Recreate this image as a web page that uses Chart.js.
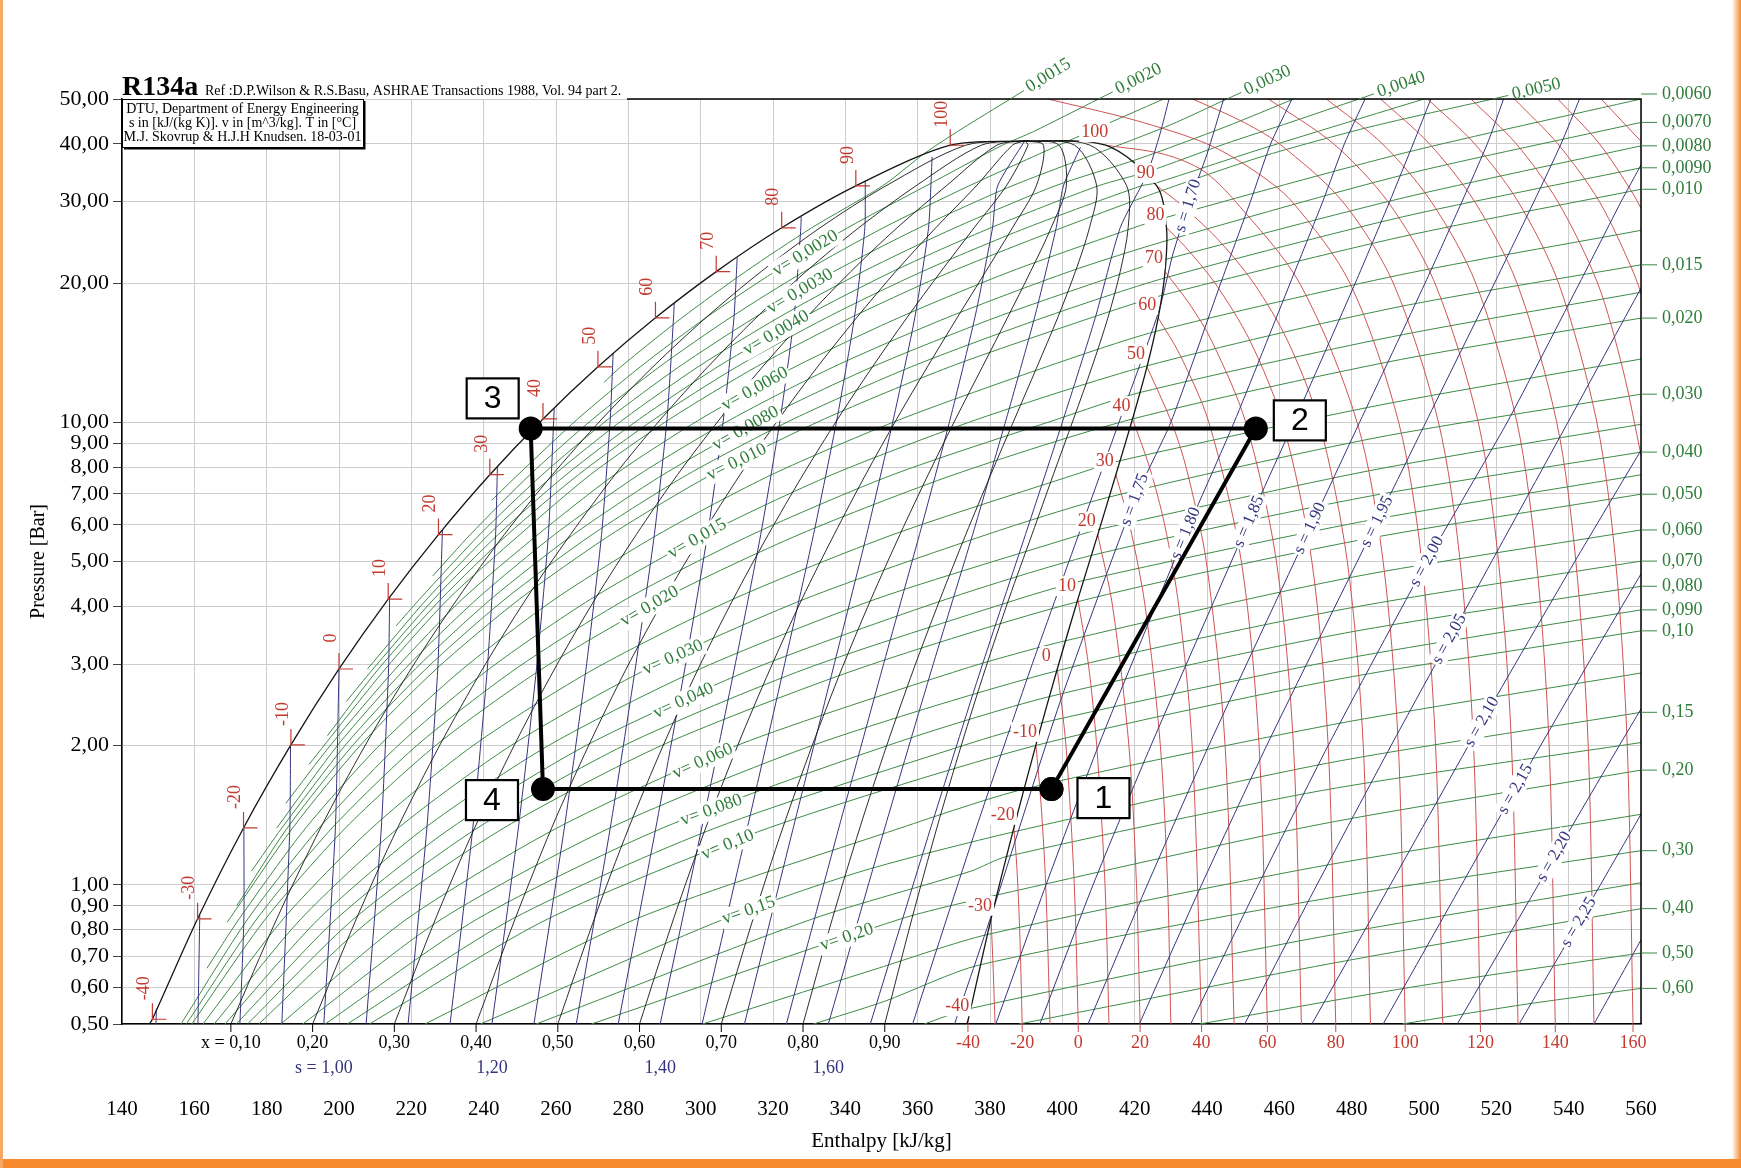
<!DOCTYPE html>
<html>
<head>
<meta charset="utf-8">
<script src="https://cdn.jsdelivr.net/npm/chart.js@4.4.1/dist/chart.umd.min.js"></script>
<style>
  html, body { margin: 0; padding: 0; background: #fff; }
  canvas { display: block; }
</style>
</head>
<body>
<canvas id="chart" width="1741" height="1168"></canvas>
<script>
const pressureTicks = [0.5, 0.6, 0.7, 0.8, 0.9, 1, 2, 3, 4, 5, 6, 7, 8, 9, 10, 20, 30, 40, 50];

// saturation dome: T [°C], p [bar], h [kJ/kg]
const satT = [-40, -30, -20, -10, 0, 10, 20, 30, 40, 50, 60, 70, 80, 90, 100];
const satP = [0.512, 0.844, 1.327, 2.006, 2.928, 4.146, 5.717, 7.702, 10.166, 13.18, 16.82, 21.17, 26.33, 32.44, 39.72];
const satHliq = [148.4, 160.9, 173.6, 186.7, 200.0, 213.6, 227.5, 241.7, 256.4, 271.6, 287.5, 304.3, 322.4, 342.9, 369.0];
const satHvap = [374.0, 380.3, 386.6, 392.7, 398.6, 404.3, 409.8, 414.8, 419.4, 423.4, 426.5, 428.4, 428.8, 426.1, 412.0];
const satLiqBottom = [147.5, 0.5];
const satVapBottom = [373.6, 0.5];
const critPoint = [389.6, 40.59];

// constant quality lines
const qualityText = ['x = 0,10', '0,20', '0,30', '0,40', '0,50', '0,60', '0,70', '0,80', '0,90'];
const qualityP = [0.5, 0.844, 1.327, 2.006, 2.928, 4.146, 5.717, 7.702, 10.166, 13.18, 16.82, 21.17, 26.33, 32.44, 39.72];
const qualityH = [
  [170.1, 182.8, 194.9, 207.3, 219.9, 232.7, 245.7, 259.0, 272.7, 286.8, 301.4, 316.7, 333.0, 351.2, 373.3],
  [192.7, 204.8, 216.2, 227.9, 239.7, 251.7, 264.0, 276.3, 289.0, 302.0, 315.3, 329.1, 343.7, 359.5, 377.6],
  [215.3, 226.7, 237.5, 248.5, 259.6, 270.8, 282.2, 293.6, 305.3, 317.1, 329.2, 341.5, 354.3, 367.9, 381.9],
  [237.9, 248.7, 258.8, 269.1, 279.4, 289.9, 300.4, 310.9, 321.6, 332.3, 343.1, 353.9, 365.0, 376.2, 386.2],
  [260.5, 270.6, 280.1, 289.7, 299.3, 309.0, 318.7, 328.3, 337.9, 347.5, 357.0, 366.4, 375.6, 384.5, 390.5],
  [283.1, 292.5, 301.4, 310.3, 319.2, 328.0, 336.9, 345.6, 354.2, 362.7, 370.9, 378.8, 386.2, 392.8, 394.8],
  [305.7, 314.5, 322.7, 330.9, 339.0, 347.1, 355.1, 362.9, 370.5, 377.9, 384.8, 391.2, 396.9, 401.1, 399.1],
  [328.3, 336.4, 344.0, 351.5, 358.9, 366.2, 373.3, 380.2, 386.8, 393.0, 398.7, 403.6, 407.5, 409.5, 403.4],
  [350.9, 358.4, 365.3, 372.1, 378.7, 385.2, 391.6, 397.5, 403.1, 408.2, 412.6, 416.0, 418.2, 417.8, 407.7]
];

// isotherms in the superheated / supercritical region, [h, p]
const isothermT = [-40, -30, -20, -10, 0, 10, 20, 30, 40, 50, 60, 70, 80, 90, 100, 110, 120, 130, 140, 150, 160, 170, 180, 190, 200];
const isothermPts = [
  [[374.0, 0.512], [373.9, 0.5]],
  [[380.3, 0.844], [380.9, 0.65], [381.4, 0.5]],
  [[386.6, 1.327], [387.4, 1.1], [388.2, 0.8], [388.9, 0.5]],
  [[392.7, 2.006], [394.1, 1.5], [395.4, 1.0], [396.6, 0.5]],
  [[398.6, 2.928], [401.0, 2.0], [403.3, 1.0], [404.4, 0.5]],
  [[404.3, 4.146], [407.2, 3.0], [409.5, 2.0], [411.8, 1.0], [412.9, 0.5]],
  [[409.8, 5.717], [413.9, 4.0], [418.4, 2.0], [420.5, 1.0], [421.5, 0.5]],
  [[414.8, 7.702], [418.6, 6.0], [422.9, 4.0], [427.1, 2.0], [429.1, 1.0], [430.0, 0.5]],
  [[419.4, 10.166], [424.1, 8.0], [428.3, 6.0], [432.2, 4.0], [435.9, 2.0], [438.5, 0.5]],
  [[423.4, 13.18], [430.2, 10.0], [434.2, 8.0], [439.8, 5.0], [445.0, 2.0], [447.5, 0.5]],
  [[426.5, 16.82], [432.5, 14.0], [440.5, 10.0], [449.5, 5.0], [454.4, 2.0], [456.7, 0.5]],
  [[428.4, 21.17], [435.2, 18.0], [441.3, 15.0], [450.7, 10.0], [459.2, 5.0], [463.9, 2.0], [466.1, 0.5]],
  [[428.8, 26.33], [433.9, 24.0], [442.2, 20.0], [451.9, 15.0], [460.9, 10.0], [469.0, 5.0], [473.5, 2.0], [475.6, 0.5]],
  [[426.1, 32.44], [431.8, 30.0], [442.7, 25.0], [452.9, 20.0], [462.3, 15.0], [471.0, 10.0], [478.8, 5.0], [483.2, 2.0], [485.2, 0.5]],
  [[412.0, 39.72], [428.0, 38.0], [438.9, 35.0], [447.9, 30.0], [465.6, 20.0], [481.5, 10.0], [488.7, 5.0], [492.9, 2.0], [494.8, 0.5]],
  [[396, 50], [420, 45], [440, 40], [453, 35], [463.5, 30], [479.5, 20], [493, 10], [499.4, 5], [503.2, 2], [505.2, 0.5]],
  [[436, 50], [449, 45], [460, 40], [477.5, 30], [491.5, 20], [504, 10], [510, 5], [513.7, 2], [515.6, 0.5]],
  [[457, 50], [475, 40], [490, 30], [503, 20], [515, 10], [520.6, 5], [524.2, 2], [526, 0.5]],
  [[473, 50], [488.5, 40], [502, 30], [514.3, 20], [525.7, 10], [531.1, 5], [534.6, 2], [536.3, 0.5]],
  [[488, 50], [501.5, 40], [514, 30], [525.7, 20], [536.7, 10], [542, 5], [545.4, 2], [547, 0.5]],
  [[501, 50], [514, 40], [526, 30], [537.2, 20], [547.8, 10], [553, 5], [556.2, 2], [557.8, 0.5]],
  [[513, 50], [525.5, 40], [537, 30], [548, 20], [555, 13], [560, 8.5]],
  [[525, 50], [537, 40], [548.5, 30], [558, 21], [562, 17]],
  [[537, 50], [548.5, 40], [558, 31], [562, 27]],
  [[549, 50], [560, 40.5]]
];
const bottomTempT = [-40, -20, 0, 20, 40, 60, 80, 100, 120, 140, 160];

// isentropes, [h, p]
const isentropeS = [0.80, 0.85, 0.90, 0.95, 1.00, 1.05, 1.10, 1.15, 1.20, 1.25, 1.30, 1.35, 1.40, 1.45, 1.50, 1.55,
                    1.60, 1.65, 1.70, 1.75, 1.80, 1.85, 1.90, 1.95, 2.00, 2.05, 2.10, 2.15, 2.20, 2.25, 2.30];
const isentropePts = [
  [[149.4, 0.5], [149.5, 0.54]],
  [[161.0, 0.5], [161.5, 0.86]],
  [[172.6, 0.5], [173.7, 0.844], [173.7, 1.33]],
  [[184.2, 0.5], [186.4, 1.327], [186.6, 2.0]],
  [[195.8, 0.5], [199.0, 1.327], [200.0, 2.928]],
  [[207.5, 0.5], [211.7, 1.327], [213.7, 2.928], [214.0, 4.19]],
  [[219.1, 0.5], [224.3, 1.327], [227.3, 2.928], [228.6, 5.85]],
  [[230.7, 0.5], [237.0, 1.327], [241.0, 2.928], [243.3, 5.717], [243.8, 8.0]],
  [[242.3, 0.5], [249.6, 1.327], [254.6, 2.928], [257.9, 5.717], [259.5, 10.7]],
  [[253.9, 0.5], [262.3, 1.327], [268.3, 2.928], [272.6, 5.717], [275.0, 10.166], [275.8, 14.1]],
  [[265.6, 0.5], [275.0, 1.327], [281.9, 2.928], [287.2, 5.717], [290.7, 10.166], [292.5, 16.82], [292.7, 18.1]],
  [[277.2, 0.5], [287.6, 1.327], [295.6, 2.928], [301.9, 5.717], [306.3, 10.166], [309.2, 16.82], [310.1, 22.7]],
  [[288.8, 0.5], [300.3, 1.327], [309.3, 2.928], [316.6, 5.717], [322.0, 10.166], [325.8, 16.82], [327.7, 26.33], [327.8, 27.8]],
  [[300.4, 0.5], [312.9, 1.327], [322.9, 2.928], [331.2, 5.717], [337.7, 10.166], [342.5, 16.82], [345.4, 26.33], [345.5, 33.3]],
  [[312.1, 0.5], [325.6, 1.327], [336.6, 2.928], [345.9, 5.717], [353.3, 10.166], [359.2, 16.82], [363.0, 26.33], [364.0, 37.5]],
  [[323.7, 0.5], [338.2, 1.327], [350.2, 2.928], [360.5, 5.717], [369.0, 10.166], [375.8, 16.82], [380.7, 26.33], [382.1, 32.44], [389.6, 40.59]],
  [[335.3, 0.5], [350.9, 1.327], [363.9, 2.928], [375.2, 5.717], [384.5, 10.166], [392.3, 16.82], [398.3, 26.33], [400.3, 32.44], [405.0, 39.3]],
  [[346.9, 0.5], [363.6, 1.327], [377.5, 2.928], [389.8, 5.717], [400.3, 10.166], [409.1, 16.82], [416.0, 26.33], [423.5, 34.5], [427.0, 42], [429.5, 50]],
  [[358.6, 0.5], [376.2, 1.327], [391.2, 2.928], [404.5, 5.717], [416.0, 10.166], [426.8, 17.5], [430.5, 23], [434.8, 29.4], [440.0, 38], [444.6, 50]],
  [[370.2, 0.5], [380.6, 0.87], [399.5, 2.5], [420.0, 6.8], [430.0, 10], [443.8, 20], [452.0, 30], [457.6, 40], [463.5, 50]],
  [[381.6, 0.5], [395.5, 1], [410.0, 2], [434.1, 5.75], [447.5, 10], [463.0, 20], [472.0, 30], [478.0, 40], [483.7, 50]],
  [[393.8, 0.5], [408.5, 1], [424.5, 2], [451.6, 6.1], [464.0, 10], [481.0, 20], [490.5, 30], [497.0, 40], [501.9, 50]],
  [[407.1, 0.5], [423.5, 1], [440.5, 2], [468.5, 5.9], [482.2, 10], [500.3, 20], [510.5, 30], [517.5, 40], [522.0, 50]],
  [[421.3, 0.5], [438.5, 1], [456.5, 2], [487.0, 6.1], [500.5, 10], [519.5, 20], [530.4, 30], [537.9, 40], [543.0, 50]],
  [[435.5, 0.5], [454.2, 1], [473.5, 2], [500.8, 5], [523.0, 10], [543.0, 20], [554.5, 30], [560.0, 36]],
  [[450.4, 0.5], [470.4, 1], [490.9, 2], [507.0, 3.4], [518.7, 5], [539.8, 10], [560.0, 19.5]],
  [[469.0, 0.5], [490.7, 1], [516.0, 2.25], [541.7, 5], [560.0, 8.7]],
  [[488.7, 0.5], [510.4, 1], [525.3, 1.61], [545.3, 3], [560.0, 4.7]],
  [[509.2, 0.5], [531.6, 1], [536.0, 1.15], [554.0, 2], [560.0, 2.4]],
  [[526.3, 0.5], [542.8, 0.83], [560.0, 1.42]],
  [[547.0, 0.5], [560.0, 0.76]]
];
const isentropeLabelS = [1.70, 1.75, 1.80, 1.85, 1.90, 1.95, 2.00, 2.05, 2.10, 2.15, 2.20, 2.25];
const isentropeLabelText = ['s = 1,70', 's = 1,75', 's = 1,80', 's = 1,85', 's = 1,90', 's = 1,95', 's = 2,00', 's = 2,05', 's = 2,10', 's = 2,15', 's = 2,20', 's = 2,25'];
const isentropeLabelP = [29.4, 6.8, 5.75, 6.1, 5.9, 6.1, 5.0, 3.4, 2.25, 1.61, 1.15, 0.83];
const bottomEntropyS = [1.00, 1.20, 1.40, 1.60];
const bottomEntropyText = ['s = 1,00', '1,20', '1,40', '1,60'];

// isochores, [h, p]
const isochoreV = [0.0015, 0.0020, 0.0025, 0.0030, 0.0035, 0.0040, 0.0045, 0.0050, 0.0060, 0.0070, 0.0080, 0.0090, 0.010,
                   0.0125, 0.015, 0.0175, 0.020, 0.025, 0.030, 0.035, 0.040, 0.045, 0.050, 0.060, 0.070, 0.080, 0.090,
                   0.10, 0.125, 0.15, 0.175, 0.20, 0.25, 0.30, 0.35, 0.40, 0.50, 0.60];
const isochorePts = [
  [[273.3, 12.2], [277.9, 13.18], [294.8, 16.82], [312.4, 21.17], [330.7, 26.33], [350.3, 32.44], [362, 38.2], [372, 43], [385.6, 50]],
  [[242.2, 6.78], [249.5, 7.702], [266.0, 10.166], [283.3, 13.18], [301.4, 16.82], [320.5, 21.17], [340.6, 26.33], [362.3, 32.44], [383.4, 39.72], [392, 42.5], [410, 50]],
  [[225.9, 4.65], [236.3, 5.717], [252.8, 7.702], [270.2, 10.166], [288.6, 13.18], [308.1, 16.82], [328.6, 21.17], [350.5, 26.33], [374.2, 32.44], [399, 39.72], [428, 50]],
  [[215.8, 3.63], [222.3, 4.146], [238.9, 5.717], [256.2, 7.702], [274.5, 10.166], [294.0, 13.18], [314.8, 16.82], [336.8, 21.17], [360.4, 26.33], [386.1, 32.44], [414, 39.3], [430, 44], [445.5, 50]],
  [[207.9, 2.93], [224.3, 4.146], [241.4, 5.717], [259.5, 7.702], [278.8, 10.166], [299.3, 13.18], [321.4, 16.82], [344.9, 21.17], [370.3, 26.33], [398.0, 32.44], [421, 37.1], [445, 43.5], [464, 50]],
  [[202.0, 2.49], [209.4, 2.928], [226.2, 4.146], [244.0, 5.717], [262.8, 7.702], [283.1, 10.166], [304.7, 13.18], [328.1, 16.82], [353.0, 21.17], [380.2, 26.33], [409.9, 32.44], [424, 34.9], [445, 40], [463, 44.5], [482, 50]],
  [[196.8, 2.1], [210.9, 2.928], [228.2, 4.146], [246.6, 5.717], [266.2, 7.702], [287.3, 10.166], [310.0, 13.18], [334.7, 16.82], [361.2, 21.17], [390.1, 26.33], [421.8, 32.44], [425.8, 32.9], [455, 39], [500, 50]],
  [[191.7, 1.82], [212.8, 2.928], [230.2, 4.146], [250.0, 5.717], [269.5, 7.702], [291.5, 10.166], [315.4, 13.18], [341.4, 16.82], [369.3, 21.17], [399.9, 26.33], [426.6, 31.5], [455, 37.5], [485, 43.5], [519, 50]],
  [[185.3, 1.5], [197.7, 2.006], [215.6, 2.928], [234.1, 4.146], [255.0, 5.717], [276.2, 7.702], [300.0, 10.166], [326.1, 13.18], [354.7, 16.82], [385.6, 21.17], [419.7, 26.33], [428.5, 27.7], [495, 38.3], [560, 50]],
  [[182.8, 1.327], [199.7, 2.006], [218.2, 2.928], [238.1, 4.146], [259.6, 5.717], [282.9, 7.702], [308.6, 10.166], [336.8, 13.18], [368.0, 16.82], [401.9, 21.17], [428.8, 24.7], [494.5, 34.3], [560, 44.5]],
  [[175.8, 1.07], [184.2, 1.327], [201.8, 2.006], [221.1, 2.928], [242.0, 4.146], [264.8, 5.717], [289.6, 7.702], [317.1, 10.166], [347.5, 13.18], [381.3, 16.82], [418.1, 21.17], [428.6, 22.5], [494.5, 30.6], [560, 39.6]],
  [[171.7, 0.9], [185.7, 1.327], [203.9, 2.006], [224.0, 2.928], [245.9, 4.146], [270.0, 5.717], [296.3, 7.702], [325.7, 10.166], [358.2, 13.18], [394.6, 16.82], [428.2, 20.5], [494, 27.8], [560, 35.5]],
  [[169.1, 0.83], [187.2, 1.327], [206.0, 2.006], [226.9, 2.928], [249.9, 4.146], [275.2, 5.717], [302.9, 7.702], [334.2, 10.166], [368.9, 13.18], [407.9, 16.82], [427.4, 18.8], [494, 25.2], [560, 31.9]],
  [[163.5, 0.66], [172.4, 0.844], [190.8, 1.327], [211.3, 2.006], [234.2, 2.928], [259.7, 4.146], [288.2, 5.717], [319.6, 7.702], [355.5, 10.166], [395.6, 13.18], [425.6, 15.7], [493, 20.8], [560, 26]],
  [[156.3, 0.5], [174.8, 0.844], [194.5, 1.327], [216.5, 2.006], [241.5, 2.928], [269.6, 4.146], [301.1, 5.717], [336.3, 7.702], [376.8, 10.166], [423.5, 13.25], [492, 17.7], [560, 21.9]],
  [[157.8, 0.5], [177.3, 0.844], [198.1, 1.327], [221.7, 2.006], [248.8, 2.928], [279.4, 4.146], [314.2, 5.717], [353.1, 7.702], [398.8, 10.166], [421.5, 11.6], [491, 15.3], [560, 19.1]],
  [[159.3, 0.5], [179.7, 0.844], [201.8, 1.327], [226.9, 2.006], [256.1, 2.928], [289.3, 4.146], [327.2, 5.717], [370.0, 7.702], [419.4, 10.166], [490, 13.5], [560, 16.8]],
  [[162.4, 0.5], [184.6, 0.844], [209.1, 1.327], [237.3, 2.006], [270.6, 2.928], [309.0, 4.146], [353.2, 5.717], [403.4, 7.702], [416.0, 8.26], [488, 10.9], [560, 13.7]],
  [[165.5, 0.5], [189.5, 0.844], [216.4, 1.327], [247.8, 2.006], [285.2, 2.928], [328.7, 4.146], [379.1, 5.717], [412.9, 6.89], [486.5, 9.25], [560, 11.5]],
  [[168.5, 0.5], [194.4, 0.844], [223.7, 1.327], [258.2, 2.006], [299.8, 2.928], [348.4, 4.146], [405.1, 5.717], [410.2, 5.87], [485, 7.86], [560, 9.9]],
  [[171.6, 0.5], [199.3, 0.844], [231.0, 1.327], [268.6, 2.006], [314.4, 2.928], [368.0, 4.146], [407.9, 5.15], [484, 6.9], [560, 8.62]],
  [[174.7, 0.5], [204.1, 0.844], [238.3, 1.327], [279.1, 2.006], [328.9, 2.928], [387.8, 4.146], [405.9, 4.55], [483, 6.1], [560, 7.7]],
  [[177.8, 0.5], [209.0, 0.844], [245.6, 1.327], [289.5, 2.006], [343.5, 2.928], [404.1, 4.09], [482, 5.56], [560, 6.99]],
  [[183.9, 0.5], [218.8, 0.844], [260.3, 1.327], [310.4, 2.006], [372.7, 2.928], [400.9, 3.37], [480.5, 4.63], [560, 5.85]],
  [[190.0, 0.5], [228.5, 0.844], [274.9, 1.327], [331.3, 2.006], [398.4, 2.9], [479, 3.96], [560, 5.01]],
  [[196.2, 0.5], [238.3, 0.844], [289.5, 1.327], [352.2, 2.006], [396.3, 2.55], [478, 3.5], [560, 4.42]],
  [[202.3, 0.5], [248.0, 0.844], [304.1, 1.327], [373.1, 2.006], [394.4, 2.24], [477, 3.07], [560, 3.93]],
  [[208.4, 0.5], [257.8, 0.844], [318.8, 1.327], [392.6, 2.0], [476, 2.78], [560, 3.54]],
  [[223.8, 0.5], [282.2, 0.844], [355.3, 1.327], [389.4, 1.61], [474.7, 2.22], [560, 2.87]],
  [[239.1, 0.5], [306.6, 0.844], [344.6, 1.07], [386.3, 1.30], [473, 1.83], [560, 2.36]],
  [[254.5, 0.5], [331.0, 0.844], [374.7, 1.07], [384.4, 1.15], [472, 1.6], [560, 2.03]],
  [[269.8, 0.5], [355.4, 0.844], [381.8, 0.95], [471, 1.35], [560, 1.77]],
  [[300.5, 0.5], [349.1, 0.66], [379.1, 0.78], [469.5, 1.09], [560, 1.42]],
  [[331.2, 0.5], [350.9, 0.56], [376.8, 0.67], [468, 0.92], [560, 1.185]],
  [[361.8, 0.5], [374.5, 0.54], [467, 0.76], [560, 1.01]],
  [[388, 0.5], [474, 0.675], [560, 0.888]],
  [[438, 0.5], [499, 0.605], [560, 0.712]],
  [[494, 0.5], [527, 0.55], [560, 0.597]]
];
const isochoreLabelV = [0.0020, 0.0030, 0.0040, 0.0060, 0.0080, 0.010, 0.015, 0.020, 0.030, 0.040, 0.060, 0.080, 0.10, 0.15, 0.20];
const isochoreLabelText = ['v= 0,0020', 'v= 0,0030', 'v= 0,0040', 'v= 0,0060', 'v= 0,0080', 'v= 0,010', 'v= 0,015', 'v= 0,020',
                           'v= 0,030', 'v= 0,040', 'v= 0,060', 'v= 0,080', 'v= 0,10', 'v= 0,15', 'v= 0,20'];
const isochoreLabelP = [23.2, 19.2, 15.6, 11.8, 9.7, 8.2, 5.6, 4.0, 3.1, 2.5, 1.85, 1.45, 1.22, 0.88, 0.77];
const rightLabelV = [0.0060, 0.0070, 0.0080, 0.0090, 0.010, 0.015, 0.020, 0.030, 0.040, 0.050, 0.060, 0.070, 0.080, 0.090,
                     0.10, 0.15, 0.20, 0.30, 0.40, 0.50, 0.60];
const rightLabelText = ['0,0060', '0,0070', '0,0080', '0,0090', '0,010', '0,015', '0,020', '0,030', '0,040', '0,050', '0,060',
                        '0,070', '0,080', '0,090', '0,10', '0,15', '0,20', '0,30', '0,40', '0,50', '0,60'];
const topLabelV = [0.0015, 0.0020, 0.0030, 0.0040, 0.0050];
const topLabelText = ['0,0015', '0,0020', '0,0030', '0,0040', '0,0050'];

// refrigeration cycle 1-2-3-4
const cycleName = ['1', '2', '3', '4'];
const cycleH = [397.0, 453.5, 253.0, 256.4];
const cycleP = [1.61, 9.7, 9.7, 1.61];

// ---------- drawing ----------
const SERIF = '"Liberation Serif", "Times New Roman", serif';
const SANS = '"Liberation Sans", Arial, sans-serif';
const RED = '#cc4b4b', RED_TXT = '#c23a30';
const GREEN = '#3d8a46', GREEN_TXT = '#2f7d3a';
const NAVY = '#34347e';
const BLACK = '#151515';

Chart.defaults.font.family = SERIF;

const toXY = pts => pts.map(([h, p]) => ({ x: h, y: p }));

function curve(pts, color, width, order, tension) {
  return {
    data: toXY(pts), borderColor: color, borderWidth: width, pointRadius: 0, pointHoverRadius: 0,
    showLine: true, fill: false, tension: tension === undefined ? 0.3 : tension, order
  };
}

const datasets = [];

// cycle on top
const cyclePts = cycleH.map((h, i) => [h, cycleP[i]]);
cyclePts.push(cyclePts[0]);
datasets.push(Object.assign(curve(cyclePts, '#000', 4, 0, 0), {
  pointRadius: 10, pointBackgroundColor: '#000', pointBorderColor: '#000'
}));

// saturation dome
const liquidLine = [satLiqBottom, ...satHliq.map((h, i) => [h, satP[i]]), critPoint];
const vapourLine = [satVapBottom, ...satHvap.map((h, i) => [h, satP[i]]), critPoint];
datasets.push(curve(liquidLine, BLACK, 1.3, 1));
datasets.push(curve(vapourLine, BLACK, 1.3, 1));

qualityH.forEach(row => {
  const pts = row.map((h, i) => [h, qualityP[i]]);
  pts.push(critPoint);
  datasets.push(curve(pts, BLACK, 0.9, 2));
});

isentropePts.forEach(pts => datasets.push(curve(pts, NAVY, 1.0, 3, 0.2)));
isothermPts.forEach(pts => datasets.push(curve(pts, RED, 0.95, 4)));
isochorePts.forEach(pts => datasets.push(curve(pts, GREEN, 1.0, 5, 0.25)));

function tag(ctx, text, X, Y, angle, color, size, bg, align) {
  ctx.save();
  ctx.translate(X, Y);
  ctx.rotate(angle);
  ctx.font = size + 'px ' + SERIF;
  ctx.textAlign = align || 'center';
  ctx.textBaseline = 'middle';
  if (bg) {
    const w = ctx.measureText(text).width;
    const x0 = ctx.textAlign === 'left' ? -2 : -w / 2 - 2;
    ctx.fillStyle = '#fff';
    ctx.fillRect(x0, -size * 0.55, w + 4, size * 1.1);
  }
  ctx.fillStyle = color;
  ctx.fillText(text, 0, 0);
  ctx.restore();
}

// point on a curve at a given pressure, with the local direction
function onCurve(pts, p, px, py) {
  for (let i = 0; i < pts.length - 1; i++) {
    const [h1, p1] = pts[i], [h2, p2] = pts[i + 1];
    if (p1 !== p2 && (p - p1) * (p - p2) <= 0) {
      const t = Math.log(p / p1) / Math.log(p2 / p1);
      const x1 = px(h1), y1 = py(p1), x2 = px(h2), y2 = py(p2);
      let ang = Math.atan2(y2 - y1, x2 - x1);
      if (ang > Math.PI / 2) ang -= Math.PI;
      if (ang < -Math.PI / 2) ang += Math.PI;
      return { X: x1 + t * (x2 - x1), Y: y1 + t * (y2 - y1), ang };
    }
  }
  return null;
}

function drawLabels(chart) {
  const { ctx, chartArea: a, scales } = chart;
  const px = h => scales.x.getPixelForValue(h);
  const py = p => scales.y.getPixelForValue(p);
  ctx.save();

  // top and right frame
  ctx.strokeStyle = '#000';
  ctx.lineWidth = 1.5;
  ctx.beginPath();
  ctx.moveTo(627, a.top);
  ctx.lineTo(a.right, a.top);
  ctx.lineTo(a.right, a.bottom);
  ctx.stroke();

  // markers and labels on the saturated liquid line
  satT.forEach((t, i) => {
    const X = px(satHliq[i]), Y = py(satP[i]);
    ctx.strokeStyle = RED_TXT;
    ctx.lineWidth = 1.2;
    ctx.beginPath();
    ctx.moveTo(X, Y - 16); ctx.lineTo(X, Y + 1);
    ctx.moveTo(X, Y); ctx.lineTo(X + 14, Y);
    ctx.stroke();
    tag(ctx, String(t), X - 8, Y - 31, -Math.PI / 2, RED_TXT, 18, false);
  });

  // labels where isotherms leave the saturated vapour line
  satT.forEach((t, i) => {
    tag(ctx, String(t), px(satHvap[i]) - 11, py(satP[i]) - 13, 0, RED_TXT, 18, true);
  });

  // isentrope labels
  isentropeLabelS.forEach((s, i) => {
    const k = isentropeS.indexOf(s);
    const c = onCurve(isentropePts[k], isentropeLabelP[i], px, py);
    if (c) tag(ctx, isentropeLabelText[i], c.X, c.Y, c.ang, NAVY, 17, true);
  });

  // isochore labels inside the dome
  isochoreLabelV.forEach((v, i) => {
    const k = isochoreV.indexOf(v);
    const c = onCurve(isochorePts[k], isochoreLabelP[i], px, py);
    if (c) tag(ctx, isochoreLabelText[i], c.X, c.Y, c.ang, GREEN_TXT, 18, true);
  });

  // isochore labels on the right edge
  rightLabelV.forEach((v, i) => {
    const pts = isochorePts[isochoreV.indexOf(v)];
    const Y = py(pts[pts.length - 1][1]) - (i === 0 ? 5 : 0);
    ctx.strokeStyle = GREEN;
    ctx.lineWidth = 1;
    ctx.beginPath(); ctx.moveTo(a.right, Y); ctx.lineTo(a.right + 16, Y); ctx.stroke();
    tag(ctx, rightLabelText[i], a.right + 21, Y, 0, GREEN_TXT, 18, false, 'left');
  });

  // isochore labels above the top edge
  topLabelV.forEach((v, i) => {
    const pts = isochorePts[isochoreV.indexOf(v)];
    const n = pts.length;
    const X = px(pts[n - 1][0]), Y = py(pts[n - 1][1]);
    const ang = Math.atan2(py(pts[n - 1][1]) - py(pts[n - 2][1]), px(pts[n - 1][0]) - px(pts[n - 2][0]));
    const c = Math.cos(ang), s = Math.sin(ang);
    ctx.strokeStyle = GREEN;
    ctx.lineWidth = 1;
    ctx.beginPath(); ctx.moveTo(X, Y); ctx.lineTo(X + 16 * c, Y + 16 * s); ctx.stroke();
    tag(ctx, topLabelText[i], X + 20 * c, Y + 20 * s, ang, GREEN_TXT, 18, false, 'left');
  });

  // bottom rows: quality, temperature, entropy
  const rowY = a.bottom + 19;
  qualityH.forEach((row, i) => {
    const X = px(row[0]);
    ctx.strokeStyle = '#000';
    ctx.lineWidth = 1;
    ctx.beginPath(); ctx.moveTo(X, a.bottom); ctx.lineTo(X, a.bottom + 8); ctx.stroke();
    tag(ctx, qualityText[i], X, rowY, 0, '#000', 18, false);
  });
  bottomTempT.forEach(t => {
    const pts = isothermPts[isothermT.indexOf(t)];
    const X = px(pts[pts.length - 1][0]);
    ctx.strokeStyle = RED;
    ctx.lineWidth = 1;
    ctx.beginPath(); ctx.moveTo(X, a.bottom); ctx.lineTo(X, a.bottom + 8); ctx.stroke();
    tag(ctx, String(t), X, rowY, 0, RED_TXT, 18, false);
  });
  bottomEntropyS.forEach((s, i) => {
    const pts = isentropePts[isentropeS.indexOf(s)];
    tag(ctx, bottomEntropyText[i], px(pts[0][0]), a.bottom + 44, 0, NAVY, 18, false);
  });

  // title and reference
  ctx.fillStyle = '#000';
  ctx.textAlign = 'left';
  ctx.textBaseline = 'alphabetic';
  ctx.font = 'bold 28px ' + SERIF;
  ctx.fillText('R134a', a.left, a.top - 4);
  ctx.font = '14px ' + SERIF;
  ctx.fillText('Ref :D.P.Wilson & R.S.Basu, ASHRAE Transactions 1988, Vol. 94 part 2.', a.left + 83, a.top - 4);

  // info box
  const bx = a.left, by = a.top, bw = 241, bh = 48;
  ctx.fillStyle = '#fff';
  ctx.fillRect(bx, by, bw, bh);
  ctx.strokeStyle = '#000';
  ctx.lineWidth = 1;
  ctx.strokeRect(bx + 0.5, by + 0.5, bw, bh);
  ctx.lineWidth = 2;
  ctx.beginPath();
  ctx.moveTo(bx + bw + 1.5, by + 2); ctx.lineTo(bx + bw + 1.5, by + bh + 1.5); ctx.lineTo(bx + 2, by + bh + 1.5);
  ctx.stroke();
  ctx.fillStyle = '#000';
  ctx.font = '14px ' + SERIF;
  ctx.textAlign = 'center';
  ctx.textBaseline = 'middle';
  ctx.fillText('DTU, Department of Energy Engineering', bx + bw / 2, by + 10);
  ctx.fillText('s in [kJ/(kg K)]. v in [m^3/kg]. T in [°C]', bx + bw / 2, by + 24);
  ctx.fillText('M.J. Skovrup & H.J.H Knudsen. 18-03-01', bx + bw / 2, by + 38);

  ctx.restore();
}

const overlay = {
  id: 'overlay',
  // labels go above every property line but below the cycle (dataset 0 is drawn last)
  beforeDatasetDraw(chart, args) {
    if (args.index === 0) drawLabels(chart);
  },
  afterDraw(chart) {
    const { ctx, scales } = chart;
    const px = h => scales.x.getPixelForValue(h);
    const py = p => scales.y.getPixelForValue(p);
    ctx.save();

    // numbered boxes of the cycle states
    const offsets = [[52, 9], [44, -8], [-38, -30], [-51, 11]];
    cycleName.forEach((name, i) => {
      const cx = px(cycleH[i]) + offsets[i][0], cy = py(cycleP[i]) + offsets[i][1];
      ctx.fillStyle = '#fff';
      ctx.fillRect(cx - 26, cy - 20, 52, 40);
      ctx.strokeStyle = '#000';
      ctx.lineWidth = 2.2;
      ctx.strokeRect(cx - 26, cy - 20, 52, 40);
      ctx.fillStyle = '#000';
      ctx.font = '32px ' + SANS;
      ctx.textAlign = 'center';
      ctx.textBaseline = 'middle';
      ctx.fillText(name, cx, cy + 1);
    });

    // orange frame of the screenshot
    const W = chart.width, H = chart.height;
    ctx.fillStyle = '#f5892c';
    ctx.fillRect(0, H - 9, W, 9);
    ctx.fillStyle = '#f7a865';
    ctx.fillRect(0, 0, 3, H);
    const g = ctx.createLinearGradient(W - 9, 0, W, 0);
    g.addColorStop(0, 'rgba(245,137,44,0)');
    g.addColorStop(1, '#f5892c');
    ctx.fillStyle = g;
    ctx.fillRect(W - 9, 0, 9, H - 9);
    ctx.restore();
  }
};

new Chart(document.getElementById('chart'), {
  type: 'scatter',
  data: { datasets },
  options: {
    responsive: false,
    animation: false,
    devicePixelRatio: 1,
    layout: { padding: { left: 0, right: 100, top: 99, bottom: 0 } },
    plugins: { legend: { display: false }, tooltip: { enabled: false } },
    scales: {
      x: {
        type: 'linear',
        min: 140,
        max: 560,
        afterFit: scale => { scale.height = 144; },
        grid: { color: '#cdcdcd', drawTicks: false },
        border: { color: '#000', width: 1.5 },
        ticks: { stepSize: 20, autoSkip: false, maxRotation: 0, padding: 73, color: '#000', font: { size: 21 } },
        title: { display: true, text: 'Enthalpy [kJ/kg]', color: '#000', font: { size: 21 }, padding: { top: 0, bottom: 14 } }
      },
      y: {
        type: 'logarithmic',
        min: 0.5,
        max: 50,
        afterFit: scale => { scale.width = 122; },
        afterBuildTicks: scale => { scale.ticks = pressureTicks.map(v => ({ value: v })); },
        grid: { color: '#cdcdcd', tickLength: 9, tickColor: '#444' },
        border: { color: '#000', width: 1.5 },
        ticks: {
          autoSkip: false, padding: 4, color: '#000', font: { size: 22 },
          callback: v => Number(v).toFixed(2).replace('.', ',')
        },
        title: { display: true, text: 'Pressure [Bar]', color: '#000', font: { size: 20 }, padding: { top: 27, bottom: 0 } }
      }
    }
  },
  plugins: [overlay]
});
</script>
</body>
</html>
